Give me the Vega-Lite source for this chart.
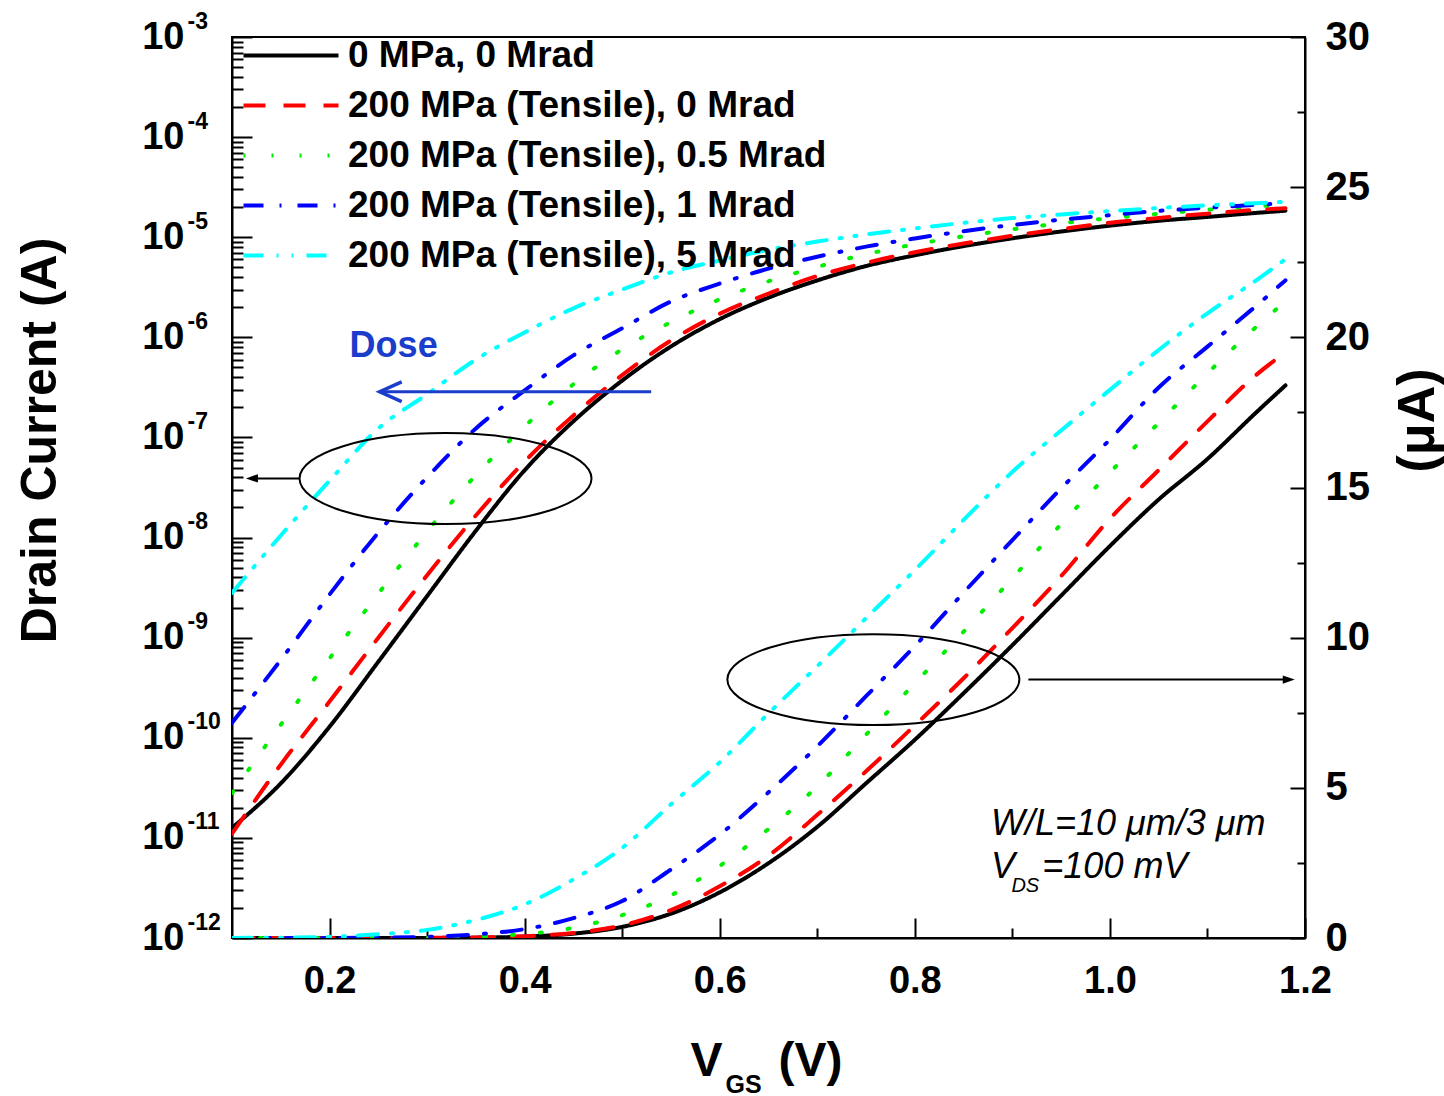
{
"$schema": "https://vega.github.io/schema/vega-lite/v6.json",
"width": 1073, "height": 901,
"autosize": {"type": "none"},
"padding": {"left": 232, "top": 37, "right": 139, "bottom": 158},
"background": "white",
"config": {
 "view": {"stroke": "black", "strokeWidth": 2},
 "axis": {"grid": false, "domainColor": "black", "domainWidth": 2, "tickColor": "black", "tickWidth": 2, "labelColor": "black", "titleColor": "black", "labelFont": "Liberation Sans", "titleFont": "Liberation Sans", "labelFontWeight": "bold", "titleFontWeight": "bold"},
 "text": {"font": "Liberation Sans"}
},
"datasets": {
 "iv": [
  {"s":"0 MPa, 0 Mrad","V":0.1,"I":1.26e-11},{"s":"0 MPa, 0 Mrad","V":0.15,"I":3.5e-11},{"s":"0 MPa, 0 Mrad","V":0.2,"I":1.29e-10},{"s":"0 MPa, 0 Mrad","V":0.25,"I":5.75e-10},{"s":"0 MPa, 0 Mrad","V":0.3,"I":2.6e-9},{"s":"0 MPa, 0 Mrad","V":0.35,"I":1.17e-8},{"s":"0 MPa, 0 Mrad","V":0.4,"I":4.7e-8},{"s":"0 MPa, 0 Mrad","V":0.45,"I":1.45e-7},{"s":"0 MPa, 0 Mrad","V":0.5,"I":3.7e-7},{"s":"0 MPa, 0 Mrad","V":0.55,"I":8.1e-7},{"s":"0 MPa, 0 Mrad","V":0.6,"I":1.52e-6},{"s":"0 MPa, 0 Mrad","V":0.65,"I":2.49e-6},{"s":"0 MPa, 0 Mrad","V":0.7,"I":3.7e-6},{"s":"0 MPa, 0 Mrad","V":0.75,"I":5.15e-6},{"s":"0 MPa, 0 Mrad","V":0.8,"I":6.6e-6},{"s":"0 MPa, 0 Mrad","V":0.85,"I":8.15e-6},{"s":"0 MPa, 0 Mrad","V":0.9,"I":9.75e-6},{"s":"0 MPa, 0 Mrad","V":0.95,"I":1.14e-5},{"s":"0 MPa, 0 Mrad","V":1.0,"I":1.305e-5},{"s":"0 MPa, 0 Mrad","V":1.05,"I":1.46e-5},{"s":"0 MPa, 0 Mrad","V":1.1,"I":1.595e-5},{"s":"0 MPa, 0 Mrad","V":1.15,"I":1.75e-5},{"s":"0 MPa, 0 Mrad","V":1.18,"I":1.84e-5},
  {"s":"200 MPa (Tensile), 0 Mrad","V":0.1,"I":1.1e-11},{"s":"200 MPa (Tensile), 0 Mrad","V":0.15,"I":5.4e-11},{"s":"200 MPa (Tensile), 0 Mrad","V":0.2,"I":2.3e-10},{"s":"200 MPa (Tensile), 0 Mrad","V":0.25,"I":1.0e-9},{"s":"200 MPa (Tensile), 0 Mrad","V":0.3,"I":4.2e-9},{"s":"200 MPa (Tensile), 0 Mrad","V":0.35,"I":1.66e-8},{"s":"200 MPa (Tensile), 0 Mrad","V":0.4,"I":5.75e-8},{"s":"200 MPa (Tensile), 0 Mrad","V":0.45,"I":1.66e-7},{"s":"200 MPa (Tensile), 0 Mrad","V":0.5,"I":4.2e-7},{"s":"200 MPa (Tensile), 0 Mrad","V":0.55,"I":9.3e-7},{"s":"200 MPa (Tensile), 0 Mrad","V":0.6,"I":1.72e-6},{"s":"200 MPa (Tensile), 0 Mrad","V":0.65,"I":2.74e-6},{"s":"200 MPa (Tensile), 0 Mrad","V":0.7,"I":4.1e-6},{"s":"200 MPa (Tensile), 0 Mrad","V":0.75,"I":5.55e-6},{"s":"200 MPa (Tensile), 0 Mrad","V":0.8,"I":7.08e-6},{"s":"200 MPa (Tensile), 0 Mrad","V":0.85,"I":8.65e-6},{"s":"200 MPa (Tensile), 0 Mrad","V":0.9,"I":1.032e-5},{"s":"200 MPa (Tensile), 0 Mrad","V":0.95,"I":1.205e-5},{"s":"200 MPa (Tensile), 0 Mrad","V":1.0,"I":1.396e-5},{"s":"200 MPa (Tensile), 0 Mrad","V":1.05,"I":1.558e-5},{"s":"200 MPa (Tensile), 0 Mrad","V":1.1,"I":1.72e-5},{"s":"200 MPa (Tensile), 0 Mrad","V":1.15,"I":1.875e-5},{"s":"200 MPa (Tensile), 0 Mrad","V":1.18,"I":1.95e-5},
  {"s":"200 MPa (Tensile), 0.5 Mrad","V":0.1,"I":2.8e-11},{"s":"200 MPa (Tensile), 0.5 Mrad","V":0.15,"I":1.35e-10},{"s":"200 MPa (Tensile), 0.5 Mrad","V":0.2,"I":6.2e-10},{"s":"200 MPa (Tensile), 0.5 Mrad","V":0.25,"I":2.75e-9},{"s":"200 MPa (Tensile), 0.5 Mrad","V":0.3,"I":1.15e-8},{"s":"200 MPa (Tensile), 0.5 Mrad","V":0.35,"I":4.2e-8},{"s":"200 MPa (Tensile), 0.5 Mrad","V":0.4,"I":1.29e-7},{"s":"200 MPa (Tensile), 0.5 Mrad","V":0.45,"I":3.4e-7},{"s":"200 MPa (Tensile), 0.5 Mrad","V":0.5,"I":7.6e-7},{"s":"200 MPa (Tensile), 0.5 Mrad","V":0.55,"I":1.42e-6},{"s":"200 MPa (Tensile), 0.5 Mrad","V":0.6,"I":2.4e-6},{"s":"200 MPa (Tensile), 0.5 Mrad","V":0.65,"I":3.63e-6},{"s":"200 MPa (Tensile), 0.5 Mrad","V":0.7,"I":5.05e-6},{"s":"200 MPa (Tensile), 0.5 Mrad","V":0.75,"I":6.77e-6},{"s":"200 MPa (Tensile), 0.5 Mrad","V":0.8,"I":8.48e-6},{"s":"200 MPa (Tensile), 0.5 Mrad","V":0.85,"I":1.02e-5},{"s":"200 MPa (Tensile), 0.5 Mrad","V":0.9,"I":1.198e-5},{"s":"200 MPa (Tensile), 0.5 Mrad","V":0.95,"I":1.378e-5},{"s":"200 MPa (Tensile), 0.5 Mrad","V":1.0,"I":1.55e-5},{"s":"200 MPa (Tensile), 0.5 Mrad","V":1.05,"I":1.715e-5},{"s":"200 MPa (Tensile), 0.5 Mrad","V":1.1,"I":1.88e-5},{"s":"200 MPa (Tensile), 0.5 Mrad","V":1.15,"I":2.035e-5},{"s":"200 MPa (Tensile), 0.5 Mrad","V":1.18,"I":2.12e-5},
  {"s":"200 MPa (Tensile), 1 Mrad","V":0.1,"I":1.41e-10},{"s":"200 MPa (Tensile), 1 Mrad","V":0.15,"I":6.0e-10},{"s":"200 MPa (Tensile), 1 Mrad","V":0.2,"I":2.7e-9},{"s":"200 MPa (Tensile), 1 Mrad","V":0.25,"I":1.12e-8},{"s":"200 MPa (Tensile), 1 Mrad","V":0.3,"I":4.0e-8},{"s":"200 MPa (Tensile), 1 Mrad","V":0.35,"I":1.23e-7},{"s":"200 MPa (Tensile), 1 Mrad","V":0.4,"I":2.95e-7},{"s":"200 MPa (Tensile), 1 Mrad","V":0.45,"I":6.6e-7},{"s":"200 MPa (Tensile), 1 Mrad","V":0.5,"I":1.23e-6},{"s":"200 MPa (Tensile), 1 Mrad","V":0.55,"I":2.28e-6},{"s":"200 MPa (Tensile), 1 Mrad","V":0.6,"I":3.44e-6},{"s":"200 MPa (Tensile), 1 Mrad","V":0.65,"I":4.85e-6},{"s":"200 MPa (Tensile), 1 Mrad","V":0.7,"I":6.38e-6},{"s":"200 MPa (Tensile), 1 Mrad","V":0.75,"I":8.05e-6},{"s":"200 MPa (Tensile), 1 Mrad","V":0.8,"I":9.72e-6},{"s":"200 MPa (Tensile), 1 Mrad","V":0.85,"I":1.15e-5},{"s":"200 MPa (Tensile), 1 Mrad","V":0.9,"I":1.325e-5},{"s":"200 MPa (Tensile), 1 Mrad","V":0.95,"I":1.497e-5},{"s":"200 MPa (Tensile), 1 Mrad","V":1.0,"I":1.66e-5},{"s":"200 MPa (Tensile), 1 Mrad","V":1.05,"I":1.833e-5},{"s":"200 MPa (Tensile), 1 Mrad","V":1.1,"I":1.969e-5},{"s":"200 MPa (Tensile), 1 Mrad","V":1.15,"I":2.105e-5},{"s":"200 MPa (Tensile), 1 Mrad","V":1.18,"I":2.19e-5},
  {"s":"200 MPa (Tensile), 5 Mrad","V":0.1,"I":2.8e-9},{"s":"200 MPa (Tensile), 5 Mrad","V":0.15,"I":1.05e-8},{"s":"200 MPa (Tensile), 5 Mrad","V":0.2,"I":3.7e-8},{"s":"200 MPa (Tensile), 5 Mrad","V":0.25,"I":1.23e-7},{"s":"200 MPa (Tensile), 5 Mrad","V":0.3,"I":2.7e-7},{"s":"200 MPa (Tensile), 5 Mrad","V":0.35,"I":6.0e-7},{"s":"200 MPa (Tensile), 5 Mrad","V":0.4,"I":1.12e-6},{"s":"200 MPa (Tensile), 5 Mrad","V":0.45,"I":1.95e-6},{"s":"200 MPa (Tensile), 5 Mrad","V":0.5,"I":3.0e-6},{"s":"200 MPa (Tensile), 5 Mrad","V":0.55,"I":4.45e-6},{"s":"200 MPa (Tensile), 5 Mrad","V":0.6,"I":5.85e-6},{"s":"200 MPa (Tensile), 5 Mrad","V":0.65,"I":7.48e-6},{"s":"200 MPa (Tensile), 5 Mrad","V":0.7,"I":9.05e-6},{"s":"200 MPa (Tensile), 5 Mrad","V":0.75,"I":1.065e-5},{"s":"200 MPa (Tensile), 5 Mrad","V":0.8,"I":1.225e-5},{"s":"200 MPa (Tensile), 5 Mrad","V":0.85,"I":1.392e-5},{"s":"200 MPa (Tensile), 5 Mrad","V":0.9,"I":1.552e-5},{"s":"200 MPa (Tensile), 5 Mrad","V":0.95,"I":1.69e-5},{"s":"200 MPa (Tensile), 5 Mrad","V":1.0,"I":1.825e-5},{"s":"200 MPa (Tensile), 5 Mrad","V":1.05,"I":1.958e-5},{"s":"200 MPa (Tensile), 5 Mrad","V":1.1,"I":2.08e-5},{"s":"200 MPa (Tensile), 5 Mrad","V":1.15,"I":2.19e-5},{"s":"200 MPa (Tensile), 5 Mrad","V":1.18,"I":2.26e-5}
 ],
 "ellipses": [{"V":0.3189,"I":3.88e-8},{"V":0.7575,"I":3.81e-10}],
 "blackArrows": [{"V":0.1184,"V2":0.1696,"I":3.9e-8},{"V":0.9164,"V2":1.182,"I":3.81e-10}],
 "headLeft": [{"V":0.1143,"I":3.9e-8}],
 "headRight": [{"V":1.1895,"I":3.81e-10}],
 "doseArrow": [{"V":0.2514,"V2":0.5297,"I":2.86e-7}],
 "doseText": [{"V":0.2657,"I":8.28e-7,"t":"Dose"}],
 "notes": [{"V":0.8781,"I":3.43e-6,"t":"W/L=10 μm/3 μm"},{"V":0.8781,"I":2.0e-6,"t":"V"},{"V":0.9307,"I":2.0e-6,"t":"=100 mV"}],
 "sub": [{"V":0.899,"I":1.53e-6,"t":"DS"}]
},
"resolve": {"scale": {"y": "independent"}, "axis": {"x": "independent", "y": "independent"}},
"layer": [
 {
  "data": {"name": "iv"},
  "mark": {"type": "line", "strokeWidth": 4, "strokeCap": "round", "interpolate": "monotone", "clip": true},
  "encoding": {
   "x": {"field": "V", "type": "quantitative", "scale": {"domain": [0.1, 1.2], "nice": false, "zero": false},
    "axis": {"orient": "bottom", "values": [0.2, 0.4, 0.6, 0.8, 1.0, 1.2], "format": ".1f", "tickSize": -20, "labelFontSize": 38, "labelPadding": 44, "labelFlush": false, "labelOverlap": false, "title": "V", "titleFontSize": 48, "titleX": 458, "titleY": 137, "titleAlign": "left", "titleBaseline": "alphabetic", "titleAnchor": "start"}},
   "y": {"field": "I", "type": "quantitative", "scale": {"type": "log", "domain": [1e-12, 1e-3], "nice": false},
    "axis": {"orient": "left", "values": [1e-12, 1e-11, 1e-10, 1e-9, 1e-8, 1e-7, 1e-6, 1e-5, 1e-4, 1e-3], "labelExpr": "'10'", "tickSize": -20, "labelFontSize": 38, "labelPadding": 68, "labelAlign": "right", "labelBaseline": "middle", "labelOverlap": false, "labelFlush": false, "title": "Drain Current (A)", "titleFontSize": 50, "titleX": -192, "titleY": 403, "titleAngle": -90, "titleAlign": "center", "titleBaseline": "middle"}},
   "color": {"field": "s", "type": "nominal",
    "scale": {"domain": ["0 MPa, 0 Mrad", "200 MPa (Tensile), 0 Mrad", "200 MPa (Tensile), 0.5 Mrad", "200 MPa (Tensile), 1 Mrad", "200 MPa (Tensile), 5 Mrad"], "range": ["#000000", "#ff0000", "#00ee00", "#0000ff", "#00ffff"]},
    "legend": {"title": null, "orient": "none", "legendX": -7, "legendY": 0, "symbolType": "M0,0L9.5,0", "symbolSize": 400, "symbolStrokeWidth": 4, "labelFontSize": 37, "labelFont": "Liberation Sans", "labelFontWeight": "bold", "labelColor": "black", "labelOffset": 86, "rowPadding": 12, "padding": 0, "labelLimit": 1000, "labelBaseline": "middle"}},
   "strokeDash": {"field": "s", "type": "nominal",
    "scale": {"domain": ["0 MPa, 0 Mrad", "200 MPa (Tensile), 0 Mrad", "200 MPa (Tensile), 0.5 Mrad", "200 MPa (Tensile), 1 Mrad", "200 MPa (Tensile), 5 Mrad"], "range": [[1, 0], [22, 18], [2, 26], [20, 16, 2, 16], [20, 13, 2, 13, 2, 13]]},
    "legend": {"title": null, "orient": "none", "legendX": -7, "legendY": 0, "symbolType": "M0,0L9.5,0", "symbolSize": 400, "symbolStrokeWidth": 4, "labelFontSize": 37, "labelFont": "Liberation Sans", "labelFontWeight": "bold", "labelColor": "black", "labelOffset": 86, "rowPadding": 12, "padding": 0, "labelLimit": 1000, "labelBaseline": "middle"}}
  }
 },
 {
  "data": {"name": "iv"},
  "mark": {"type": "line", "strokeWidth": 4, "strokeCap": "round", "interpolate": "monotone", "clip": true},
  "encoding": {
   "x": {"field": "V", "type": "quantitative", "scale": {"domain": [0.1, 1.2], "nice": false, "zero": false},
    "axis": {"orient": "bottom", "values": [0.3, 0.5, 0.7, 0.9, 1.1], "tickSize": -10, "labels": false, "domain": false, "title": "GS", "titleFontSize": 25, "titleX": 493, "titleY": 154, "titleAlign": "left", "titleBaseline": "alphabetic", "titleAnchor": "start"}},
   "y": {"field": "I", "type": "quantitative", "scale": {"type": "linear", "domain": [0, 3e-5], "nice": false, "zero": false},
    "axis": {"orient": "right", "values": [0, 5e-6, 1e-5, 1.5e-5, 2e-5, 2.5e-5, 3e-5], "labelExpr": "format(datum.value*1e6,'d')", "tickSize": -15, "labelFontSize": 40, "labelPadding": 35, "labelAlign": "left", "labelBaseline": "middle", "labelOverlap": false, "labelFlush": false, "title": "(μA)", "titleFontSize": 52, "titleX": 112, "titleY": 383, "titleAngle": -90, "titleAlign": "center", "titleBaseline": "middle"}},
   "color": {"field": "s", "type": "nominal"},
   "strokeDash": {"field": "s", "type": "nominal"}
  }
 },
 {
  "data": {"name": "ellipses"},
  "mark": {"type": "point", "shape": "M-1,0C-1,-0.1721 -0.5523,-0.3116 0,-0.3116C0.5523,-0.3116 1,-0.1721 1,0C1,0.1721 0.5523,0.3116 0,0.3116C-0.5523,0.3116 -1,0.1721 -1,0Z", "size": 85264, "filled": false, "color": "black", "stroke": "black", "strokeWidth": 2, "opacity": 1},
  "encoding": {
   "x": {"field": "V", "type": "quantitative", "scale": {"domain": [0.1, 1.2], "nice": false, "zero": false},
    "axis": {"orient": "bottom", "ticks": false, "labels": false, "domain": false, "title": "(V)", "titleFontSize": 48, "titleX": 546, "titleY": 137, "titleAlign": "left", "titleBaseline": "alphabetic", "titleAnchor": "start"}},
   "y": {"field": "I", "type": "quantitative", "scale": {"type": "log", "domain": [1e-12, 1e-3], "nice": false},
    "axis": {"orient": "left", "values": [1e-12, 1e-11, 1e-10, 1e-9, 1e-8, 1e-7, 1e-6, 1e-5, 1e-4, 1e-3], "labelExpr": "'' + round(log(datum.value)/LN10)", "ticks": false, "domain": false, "labelFontSize": 23, "labelPadding": 45, "labelAlign": "left", "labelBaseline": "middle", "labelOffset": -16, "labelOverlap": false, "labelFlush": false, "title": null}}
  }
 },
 {
  "data": {"name": "blackArrows"},
  "mark": {"type": "rule", "color": "black", "strokeWidth": 2},
  "encoding": {
   "x": {"field": "V", "type": "quantitative", "scale": {"domain": [0.1, 1.2], "nice": false, "zero": false}, "axis": null},
   "x2": {"field": "V2"},
   "y": {"field": "I", "type": "quantitative", "scale": {"type": "log", "domain": [1e-12, 1e-3], "nice": false},
    "axis": {"orient": "left", "values": [2e-12,3e-12,4e-12,5e-12,6e-12,7e-12,8e-12,9e-12,2e-11,3e-11,4e-11,5e-11,6e-11,7e-11,8e-11,9e-11,2e-10,3e-10,4e-10,5e-10,6e-10,7e-10,8e-10,9e-10,2e-9,3e-9,4e-9,5e-9,6e-9,7e-9,8e-9,9e-9,2e-8,3e-8,4e-8,5e-8,6e-8,7e-8,8e-8,9e-8,2e-7,3e-7,4e-7,5e-7,6e-7,7e-7,8e-7,9e-7,2e-6,3e-6,4e-6,5e-6,6e-6,7e-6,8e-6,9e-6,2e-5,3e-5,4e-5,5e-5,6e-5,7e-5,8e-5,9e-5,2e-4,3e-4,4e-4,5e-4,6e-4,7e-4,8e-4,9e-4], "tickSize": -11, "labels": false, "domain": false, "title": null}}
  }
 },
 {
  "data": {"name": "headLeft"},
  "mark": {"type": "point", "shape": "M0,0L1,-0.35L1,0.35Z", "size": 576, "filled": true, "color": "black", "opacity": 1},
  "encoding": {
   "x": {"field": "V", "type": "quantitative", "scale": {"domain": [0.1, 1.2], "nice": false, "zero": false}, "axis": null},
   "y": {"field": "I", "type": "quantitative", "scale": {"type": "log", "domain": [1e-12, 1e-3], "nice": false}, "axis": null}
  }
 },
 {
  "data": {"name": "headRight"},
  "mark": {"type": "point", "shape": "M0,0L-1,-0.35L-1,0.35Z", "size": 576, "filled": true, "color": "black", "opacity": 1},
  "encoding": {
   "x": {"field": "V", "type": "quantitative", "scale": {"domain": [0.1, 1.2], "nice": false, "zero": false}, "axis": null},
   "y": {"field": "I", "type": "quantitative", "scale": {"type": "log", "domain": [1e-12, 1e-3], "nice": false}, "axis": null}
  }
 },
 {
  "data": {"name": "doseArrow"},
  "mark": {"type": "rule", "color": "#1a3dcc", "strokeWidth": 3},
  "encoding": {
   "x": {"field": "V", "type": "quantitative", "scale": {"domain": [0.1, 1.2], "nice": false, "zero": false}, "axis": null},
   "x2": {"field": "V2"},
   "y": {"field": "I", "type": "quantitative", "scale": {"type": "log", "domain": [1e-12, 1e-3], "nice": false}, "axis": null}
  }
 },
 {
  "data": {"name": "doseArrow"},
  "mark": {"type": "point", "shape": "M1,-0.45L0,0L1,0.45", "size": 1936, "filled": false, "color": "#1a3dcc", "strokeWidth": 3.5, "opacity": 1},
  "encoding": {
   "x": {"field": "V", "type": "quantitative", "scale": {"domain": [0.1, 1.2], "nice": false, "zero": false}, "axis": null},
   "y": {"field": "I", "type": "quantitative", "scale": {"type": "log", "domain": [1e-12, 1e-3], "nice": false}, "axis": null}
  }
 },
 {
  "data": {"name": "doseText"},
  "mark": {"type": "text", "font": "Liberation Sans", "fontWeight": "bold", "fontSize": 36, "color": "#1a3dcc", "align": "center", "baseline": "middle"},
  "encoding": {
   "x": {"field": "V", "type": "quantitative", "scale": {"domain": [0.1, 1.2], "nice": false, "zero": false}, "axis": null},
   "y": {"field": "I", "type": "quantitative", "scale": {"type": "log", "domain": [1e-12, 1e-3], "nice": false}, "axis": null},
   "text": {"field": "t"}
  }
 },
 {
  "data": {"name": "notes"},
  "mark": {"type": "text", "font": "Liberation Sans", "fontStyle": "italic", "fontSize": 36, "color": "black", "align": "left", "baseline": "alphabetic"},
  "encoding": {
   "x": {"field": "V", "type": "quantitative", "scale": {"domain": [0.1, 1.2], "nice": false, "zero": false}, "axis": null},
   "y": {"field": "I", "type": "quantitative", "scale": {"type": "linear", "domain": [0, 3e-5], "nice": false, "zero": false},
    "axis": {"orient": "right", "values": [2.5e-6, 7.5e-6, 1.25e-5, 1.75e-5, 2.25e-5, 2.75e-5], "tickSize": -8, "labels": false, "domain": false, "title": null}},
   "text": {"field": "t"}
  }
 },
 {
  "data": {"name": "sub"},
  "mark": {"type": "text", "font": "Liberation Sans", "fontStyle": "italic", "fontSize": 20, "color": "black", "align": "left", "baseline": "alphabetic"},
  "encoding": {
   "x": {"field": "V", "type": "quantitative", "scale": {"domain": [0.1, 1.2], "nice": false, "zero": false}, "axis": null},
   "y": {"field": "I", "type": "quantitative", "scale": {"type": "linear", "domain": [0, 3e-5], "nice": false, "zero": false}, "axis": null},
   "text": {"field": "t"}
  }
 }
]
}
